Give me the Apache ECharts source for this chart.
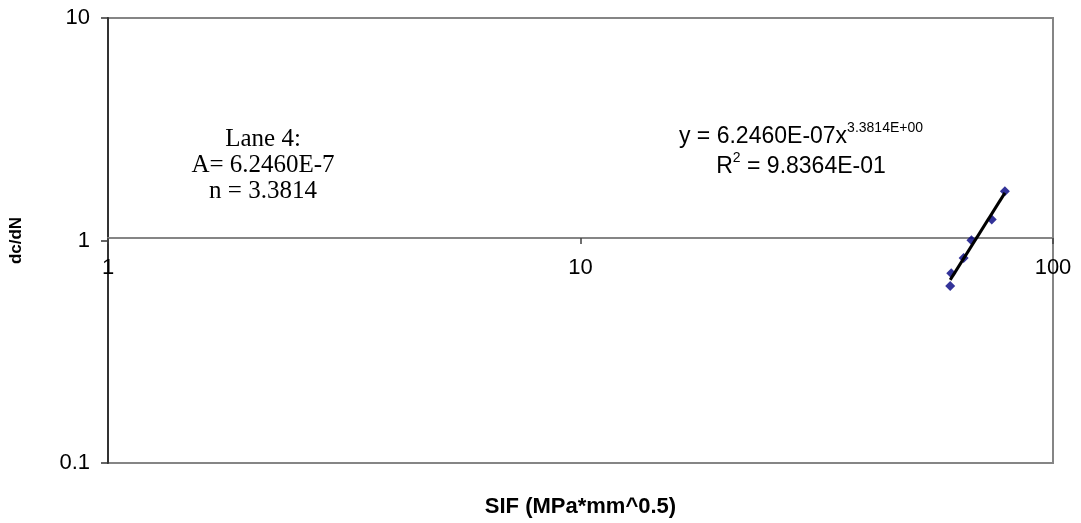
<!DOCTYPE html>
<html>
<head>
<meta charset="utf-8">
<script src="https://cdn.jsdelivr.net/npm/echarts@6/dist/echarts.min.js"></script>
<style>
  html, body { margin: 0; padding: 0; background: #ffffff; }
  #chart { width: 1081px; height: 523px; }
</style>
</head>
<body>
<div id="chart"></div>
<script>
// Crack growth rate against stress intensity factor, Lane 4
const sif = [60.6, 60.9, 64.7, 67.2, 74.2, 79.1];
const dcdN = [0.625, 0.713, 0.834, 1.003, 1.243, 1.663];

// Power-law fit dc/dN = A * SIF^n
const fitA = 6.2460e-7;
const fitN = 3.3814;
const fitAText = '6.2460E-07';
const fitNText = '3.3814E+00';
const fitR2Text = '9.8364E-01';

const xRange = [1, 100];
const yRange = [0.1, 10];

const points = sif.map((x, i) => [x, dcdN[i]]);
const xLo = Math.min(...sif);
const xHi = Math.max(...sif);
const fitLine = [xLo, xHi].map(x => [x, fitA * Math.pow(x, fitN)]);

const gridTop = 18, gridBottom = 55, gridLeft = 98, gridRight = 28;
const plotH = 523 - gridTop - gridBottom;

const sans = '"Liberation Sans", Arial, sans-serif';
const serif = '"Liberation Serif", "Times New Roman", serif';

const chart = echarts.init(document.getElementById('chart'), null, { renderer: 'canvas' });

chart.setOption({
  animation: false,
  backgroundColor: '#ffffff',
  grid: {
    left: gridLeft, right: gridRight, top: gridTop, bottom: gridBottom,
    show: true, borderColor: '#858585', borderWidth: 2, backgroundColor: 'transparent'
  },
  xAxis: [
    {
      // value axis crossing the plot at dc/dN = 1
      type: 'log', logBase: 10, min: xRange[0], max: xRange[1],
      position: 'bottom',
      offset: -plotH / 2,
      axisLine: { show: true, lineStyle: { color: '#858585', width: 2 } },
      axisTick: { show: true, inside: false, length: 6, lineStyle: { color: '#404040', width: 1.5 } },
      minorTick: { show: false },
      axisLabel: { color: '#000', fontFamily: sans, fontSize: 22, margin: 19 },
      splitLine: { show: false }
    },
    {
      // carries the title under the plot
      type: 'log', logBase: 10, min: xRange[0], max: xRange[1],
      position: 'bottom',
      name: 'SIF (MPa*mm^0.5)',
      nameLocation: 'middle',
      nameGap: 33,
      nameTextStyle: { color: '#000', fontFamily: sans, fontWeight: 'bold', fontSize: 22 },
      axisLine: { show: false },
      axisTick: { show: false },
      axisLabel: { show: false },
      splitLine: { show: false }
    }
  ],
  yAxis: {
    type: 'log', logBase: 10, min: yRange[0], max: yRange[1],
    name: 'dc/dN',
    nameLocation: 'middle',
    nameGap: 83,
    nameTextStyle: { color: '#000', fontFamily: sans, fontWeight: 'bold', fontSize: 17 },
    axisLine: { show: true, lineStyle: { color: '#333333', width: 2 } },
    axisTick: { show: true, inside: false, length: 7, lineStyle: { color: '#333333', width: 1.5 } },
    axisLabel: { color: '#000', fontFamily: sans, fontSize: 22, margin: 18 },
    splitLine: { show: false }
  },
  series: [
    {
      type: 'scatter',
      data: points,
      symbol: 'diamond',
      symbolSize: 10,
      itemStyle: { color: '#000080' },
      z: 3
    },
    {
      type: 'line',
      data: fitLine,
      showSymbol: false,
      symbol: 'none',
      lineStyle: { color: '#000000', width: 3 },
      z: 4
    }
  ],
  graphic: [
    {
      type: 'text',
      x: 263, y: 126,
      style: {
        text: 'Lane 4:\nA= 6.2460E-7\nn = ' + fitN.toFixed(4),
        font: '25px ' + serif,
        fill: '#000',
        lineHeight: 26,
        align: 'center',
        verticalAlign: 'top'
      }
    },
    {
      type: 'text',
      x: 801, y: 118,
      style: {
        text: '{b|y = ' + fitAText + 'x}{s|' + fitNText + '}\n{b|R}{s|2}{b| = ' + fitR2Text + '}',
        rich: {
          b: { fontFamily: sans, fontSize: 23, color: '#000', lineHeight: 30, verticalAlign: 'bottom' },
          s: { fontFamily: sans, fontSize: 14, color: '#000', lineHeight: 14, verticalAlign: 'top', padding: [3, 0, 0, 0] }
        },
        align: 'center',
        verticalAlign: 'top'
      }
    }
  ]
});
</script>
</body>
</html>
